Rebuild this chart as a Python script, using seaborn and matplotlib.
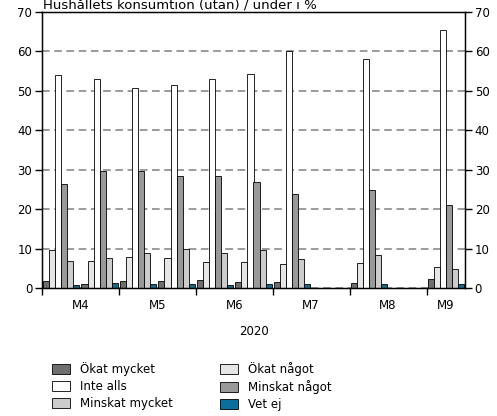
import matplotlib
matplotlib.use("Agg")
import matplotlib.pyplot as plt
import seaborn as sns
import pandas as pd
import numpy as np
from matplotlib.patches import Patch

# ---- data ----
slots = ["M4a", "M4b", "M5a", "M5b", "M6a", "M6b", "M7a", "M7b", "M8a", "M8b", "M9a"]
data_slots = ["M4a", "M4b", "M5a", "M5b", "M6a", "M6b", "M7a", "M8a", "M9a"]
months = ["M4", "M5", "M6", "M7", "M8", "M9"]
series = ["Ökat mycket", "Ökat något", "Inte alls", "Minskat något", "Minskat mycket", "Vet ej"]

okat_mycket    = [1.9, 1.1, 1.9, 1.8, 2.0, 1.6, 1.5, 1.2, 2.4]
okat_nagot     = [9.7, 6.9, 7.9, 7.5, 6.6, 6.5, 6.1, 6.3, 5.2]
inte_alls      = [54.1, 52.9, 50.8, 51.4, 52.9, 54.4, 60.0, 58.1, 65.4]
minskat_nagot  = [26.5, 29.8, 29.7, 28.5, 28.5, 26.9, 23.9, 24.8, 21.1]
minskat_mycket = [6.9, 7.7, 8.9, 9.9, 9.0, 9.6, 7.4, 8.4, 4.7]
vet_ej         = [0.7, 1.3, 0.9, 1.1, 0.8, 1.1, 0.9, 1.0, 1.0]

colors = ["#6e6e6e", "#e6e6e6", "#ffffff", "#999999", "#cccccc", "#0b6f9c"]

values = [okat_mycket, okat_nagot, inte_alls, minskat_nagot, minskat_mycket, vet_ej]
rows = []
for s, vals in zip(series, values):
    for slot, v in zip(data_slots, vals):
        rows.append({"slot": slot, "serie": s, "value": v})
df = pd.DataFrame(rows)

FS = 8.5

fig = plt.figure(figsize=(4.97, 4.16), dpi=100)
ax = fig.add_axes([42/497, 1-288/416, (465-42)/497, (288-12)/416])

sns.barplot(data=df, x="slot", y="value", hue="serie", order=slots,
            hue_order=series, palette=colors, width=0.95,
            edgecolor="black", linewidth=0.6, legend=False, ax=ax)

ax.set_xlim(-0.5, 10.5)
ax.set_ylim(0, 70)
ax.set_yticks(np.arange(0, 71, 10))
ax.yaxis.grid(True, linestyle=(0, (5, 3)), color="#808080", linewidth=1.1)
ax.set_axisbelow(True)
for sp in ax.spines.values():
    sp.set_color("black")
    sp.set_linewidth(1.0)

# month boundaries as major ticks, labels as minor ticks at month centres
ax.set_xticks([-0.5, 1.5, 3.5, 5.5, 7.5, 9.5])
ax.set_xticklabels([])
ax.set_xticks([0.5, 2.5, 4.5, 6.5, 8.5, 10.0], minor=True)
ax.set_xticklabels(months, minor=True)
ax.tick_params(axis="x", which="major", length=5, width=1, color="black")
ax.tick_params(axis="x", which="minor", length=0, labelsize=FS, pad=8)
ax.tick_params(axis="y", length=5, width=1, labelsize=FS, pad=2)
ax.set_xlabel("2020", fontsize=FS, labelpad=9)
ax.set_ylabel("")

ax2 = ax.twinx()
ax2.set_ylim(0, 70)
ax2.set_yticks(np.arange(0, 71, 10))
ax2.tick_params(axis="y", length=5, width=1, labelsize=FS, pad=2)
for sp in ax2.spines.values():
    sp.set_color("black")

fig.text(43/497, 1 - 9.5/416, "Hushållets konsumtion (utan) / under i %",
         fontsize=9.5, ha="left", va="baseline")

handles = [Patch(facecolor=c, edgecolor="black", linewidth=0.6, label=s)
           for s, c in zip(series, colors)]
order = [0, 2, 4, 1, 3, 5]
fig.legend([handles[i] for i in order], [series[i] for i in order],
           ncol=2, loc="upper left", bbox_to_anchor=(52/497, 1-362/416),
           frameon=False, fontsize=FS, handlelength=1.55, handleheight=0.9,
           labelspacing=0.35, columnspacing=4.0, handletextpad=0.8,
           borderaxespad=0, borderpad=0)

fig.savefig("out.png", dpi=100)
